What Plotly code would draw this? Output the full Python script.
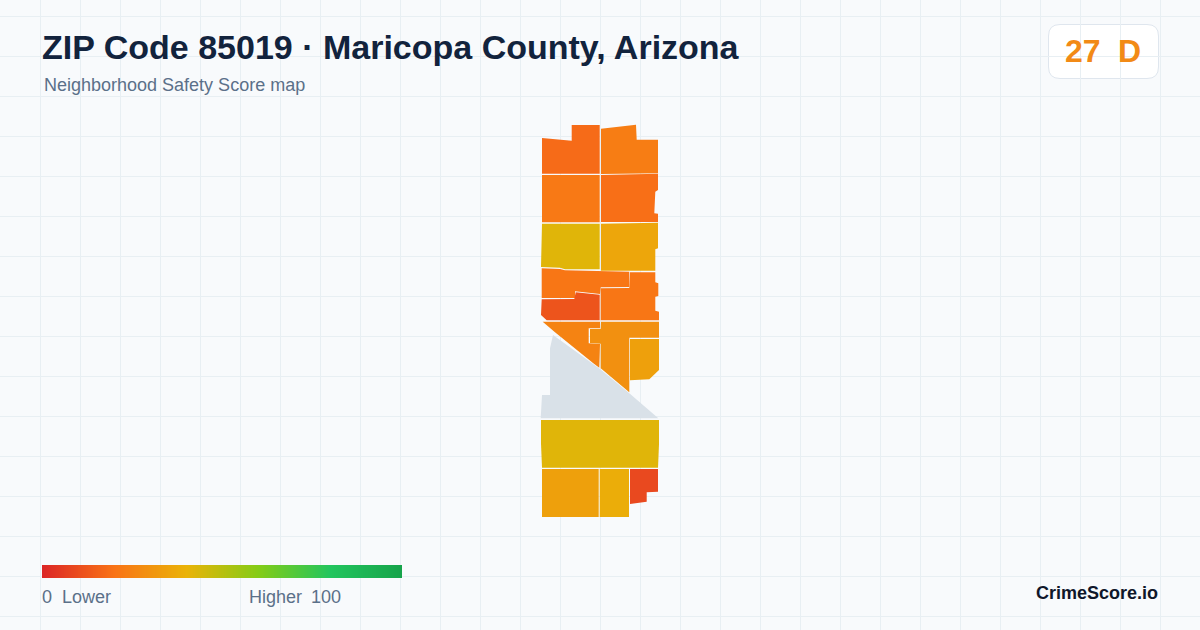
import plotly.graph_objects as go
from plotly.colors import sample_colorscale

# score gradient used by the map and the legend bar
legend_scores = [0, 20, 40, 60, 80, 100]
legend_colors = ['#dc2626', '#f97316', '#eab308', '#84cc16', '#22c55e', '#16a34a']
colorscale = [[s / 100, c] for s, c in zip(legend_scores, legend_colors)]

# tract scores and outlines
tract_scores = [18, 23, 22, 19, 42, 36, 21, 21, 12, 25, 29, 34, 42, 34, 38, 9]
tract_x = [
    [542, 571.7, 571.7, 599.7, 599.7, 542],
    [601, 636, 636.7, 658, 658, 630, 601],
    [542, 599.7, 599.7, 542],
    [601, 630, 658, 658, 655.3, 654.3, 658, 658, 601],
    [542, 599.7, 599.7, 565, 560, 541],
    [601, 629.3, 658, 658, 655.3, 655.3, 601],
    [541.7, 560, 565, 629.3, 629.3, 600.7, 600, 575, 575, 541.7],
    [600.7, 629.3, 630, 655.3, 655.3, 658.3, 658.3, 655.3, 655.3, 659, 659, 600.7],
    [541.7, 574.3, 575.7, 599.7, 599.7, 546.7, 541],
    [542.7, 600, 600, 588.7, 588.7, 600, 599.3, 593.3, 555],
    [601, 659, 659, 629.3, 629.3, 600.7, 600.7, 590, 590, 600.7],
    [630, 659, 659, 649.3, 630],
    [541, 659, 659, 658, 542, 541],
    [542, 598.7, 598.7, 542],
    [599.7, 629, 629, 599.7],
    [630, 658, 658, 646.7, 646.7, 630],
]
tract_y = [
    [138, 140.7, 125, 125, 173.7, 173.7],
    [128.7, 124.7, 139.7, 139.7, 173.3, 174, 174],
    [175, 175, 222.3, 222.3],
    [175, 174.3, 173.7, 190, 191.7, 213.3, 213.7, 222, 222],
    [223.7, 223.7, 269.3, 269.3, 267.7, 267],
    [223.7, 223, 222.7, 248.3, 249.3, 270.7, 270.7],
    [268.3, 269, 270.3, 271.7, 287, 287.3, 294, 291.3, 298, 298],
    [288.3, 288, 272.3, 272.3, 282.3, 283.3, 296, 296.7, 310.7, 311.7, 320.3, 320.3],
    [299.3, 299, 292.3, 294.7, 320.3, 320.3, 315],
    [321.7, 321.7, 328.3, 328.3, 343.3, 344, 367.7, 363.3, 332.3],
    [321.7, 321.7, 337.7, 337.7, 392.3, 368.3, 343.7, 343, 329, 329],
    [339, 339, 370, 379.3, 380.3],
    [420, 420, 444.3, 467.7, 467.7, 443.3],
    [469, 469, 517, 517],
    [469, 469, 517, 517],
    [469, 469, 491.7, 492.3, 501.7, 504],
]

# the part of the ZIP with no score
noscore_x = [553, 550, 550, 542, 540.7, 658.3, 629, 600]
noscore_y = [335, 348.3, 395, 395, 418.3, 418.3, 393, 369]

BG = '#f8fafc'
FONT = 'Liberation Sans, Arial, sans-serif'

fig = go.Figure()

fig.add_trace(go.Scatter(x=noscore_x, y=noscore_y, mode='lines', fill='toself',
                         fillcolor='#d9e1e8', line=dict(width=0), hoverinfo='skip'))

for score, xs, ys in zip(tract_scores, tract_x, tract_y):
    color = sample_colorscale(colorscale, score / 100)[0]
    fig.add_trace(go.Scatter(x=xs, y=ys, mode='lines', fill='toself', fillcolor=color,
                             line=dict(width=0), name=str(score), hoverinfo='name'))

# legend bar, on its own 0-100 axis
fig.add_trace(go.Heatmap(x=legend_scores, y=[0, 1], z=[legend_scores, legend_scores],
                         xaxis='x2', yaxis='y2', zmin=0, zmax=100, zsmooth='best',
                         colorscale=colorscale, showscale=False, hoverinfo='skip'))

texts = [
    ('ZIP Code 85019 · Maricopa County, Arizona', 41, 47, 34, '#12233d', True, 'left'),
    ('Neighborhood Safety Score map', 43, 85, 18, '#5b7089', False, 'left'),
    ('27', 1064, 51, 32, '#f28a16', True, 'left'),
    ('D', 1117, 51, 32, '#f28a16', True, 'left'),
    ('0', 41, 597, 18, '#5b7089', False, 'left'),
    ('Lower', 61, 597, 18, '#5b7089', False, 'left'),
    ('Higher', 248, 597, 18, '#5b7089', False, 'left'),
    ('100', 310, 597, 18, '#5b7089', False, 'left'),
    ('CrimeScore.io', 1159, 593, 18, '#0f172a', True, 'right'),
]
for text, x, y, size, color, bold, anchor in texts:
    fig.add_annotation(x=x, y=y, text=f'<b>{text}</b>' if bold else text, showarrow=False,
                       xanchor=anchor, yanchor='middle', borderpad=0,
                       font=dict(family=FONT, size=size, color=color))

fig.update_layout(
    width=1200, height=630, margin=dict(l=0, r=0, t=0, b=0),
    autosize=False, showlegend=False,
    paper_bgcolor=BG, plot_bgcolor=BG,
    xaxis=dict(range=[0, 1200], tick0=0.5, dtick=40, showgrid=True, gridcolor='#e8eff3',
               gridwidth=1, zeroline=False, showticklabels=False, ticks=''),
    yaxis=dict(range=[630, 0], tick0=16.5, dtick=40, showgrid=True, gridcolor='#e8eff3',
               gridwidth=1, zeroline=False, showticklabels=False, ticks=''),
    xaxis2=dict(domain=[42 / 1200, 402 / 1200], range=[0, 100], anchor='y2', visible=False),
    yaxis2=dict(domain=[(630 - 578) / 630, (630 - 565) / 630], range=[0, 1], anchor='x2', visible=False),
    shapes=[
        # header band hides the grid above the map
        dict(type='rect', x0=0, x1=1200, y0=0, y1=96, layer='below',
             fillcolor=BG, line=dict(width=0)),
        # score badge
        dict(type='path', layer='below', fillcolor='#ffffff', line=dict(color='#dfe6ee', width=1),
             path='M 1060 24.5 L 1147 24.5 Q 1158.5 24.5 1158.5 36 L 1158.5 67 Q 1158.5 78.5 1147 78.5 '
                  'L 1060 78.5 Q 1048.5 78.5 1048.5 67 L 1048.5 36 Q 1048.5 24.5 1060 24.5 Z'),
    ],
)

# the page's default body margin would shift the 1200x630 figure
fig.write_html("out.html", config={'displayModeBar': False},
               post_script="document.body.style.margin='0';")
